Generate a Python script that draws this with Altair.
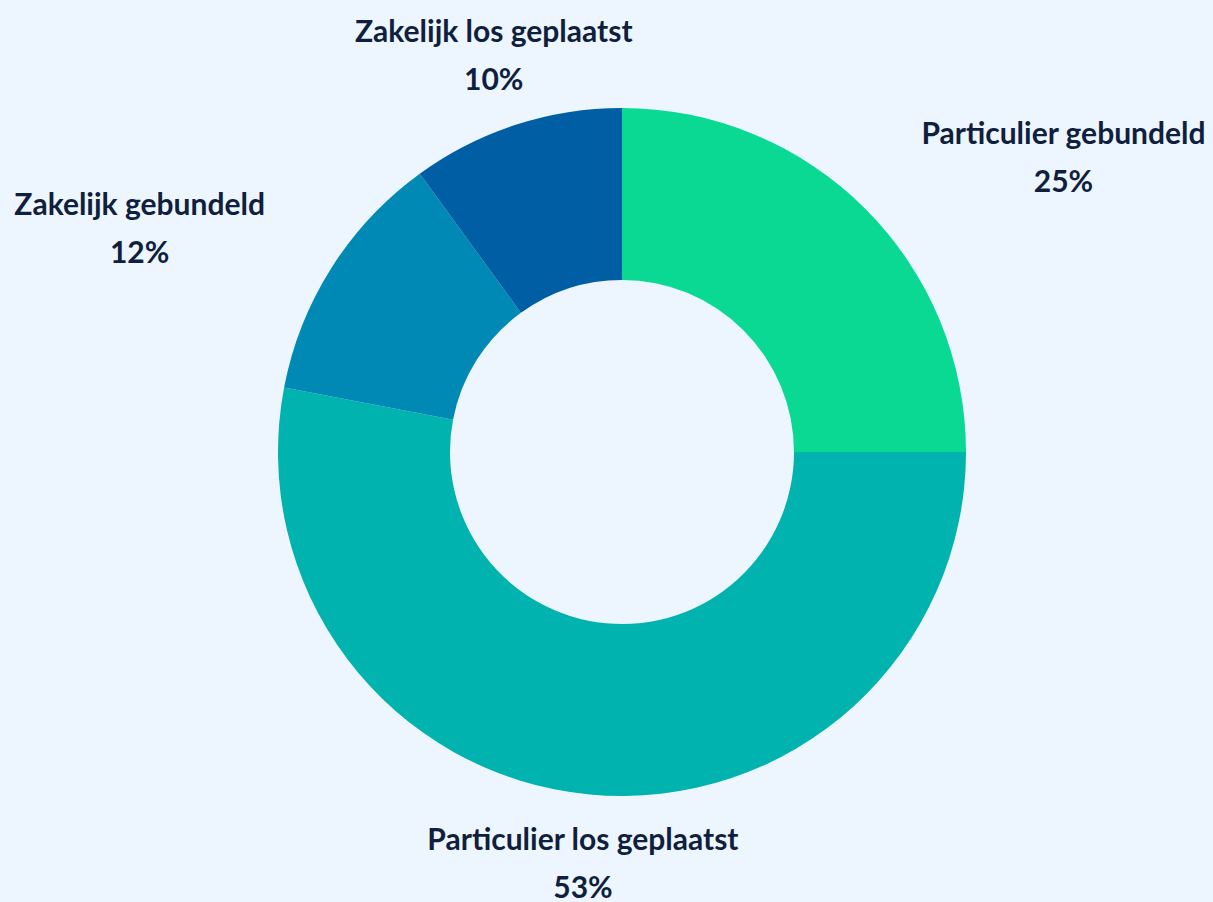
import altair as alt
import pandas as pd

categories = ["Particulier gebundeld", "Particulier los geplaatst", "Zakelijk gebundeld", "Zakelijk los geplaatst"]
values = [25, 53, 12, 10]
colors = ["#0ad994", "#00b3ae", "#0089b4", "#005ea5"]

df = pd.DataFrame({
    "cat": categories,
    "value": values,
    "order": list(range(len(categories))),
})
df["label"] = [[c, f"{v}%"] for c, v in zip(categories, values)]

label_dx = {"Particulier gebundeld": 148, "Particulier los geplaatst": 0,
            "Zakelijk gebundeld": -132, "Zakelijk los geplaatst": 0}

base = alt.Chart(df).encode(
    theta=alt.Theta("value:Q", stack=True),
    order=alt.Order("order:Q"),
)

arc = base.mark_arc(outerRadius=344, innerRadius=172, stroke=None).encode(
    color=alt.Color("cat:N", scale=alt.Scale(domain=categories, range=colors), legend=None)
)

layers = [arc]
for c in categories:
    t = base.mark_text(
        radius=415, font="Lato", fontSize=30, fontWeight="bold", color="#0f1f3d",
        align="center", baseline="middle", lineHeight=48, dx=label_dx[c], dy=-24
    ).encode(
        text="label",
        opacity=alt.condition(alt.datum.cat == c, alt.value(1), alt.value(0)),
    )
    layers.append(t)

chart = alt.layer(*layers).properties(
    width=1182, height=900,
    padding={"left": 31, "top": 2, "right": 0, "bottom": 0},
    autosize=alt.AutoSizeParams(type="none"),
    background="#edf5fe",
).configure_view(stroke=None)

chart.save("out.html", embed_options={"renderer": "svg", "actions": False})
